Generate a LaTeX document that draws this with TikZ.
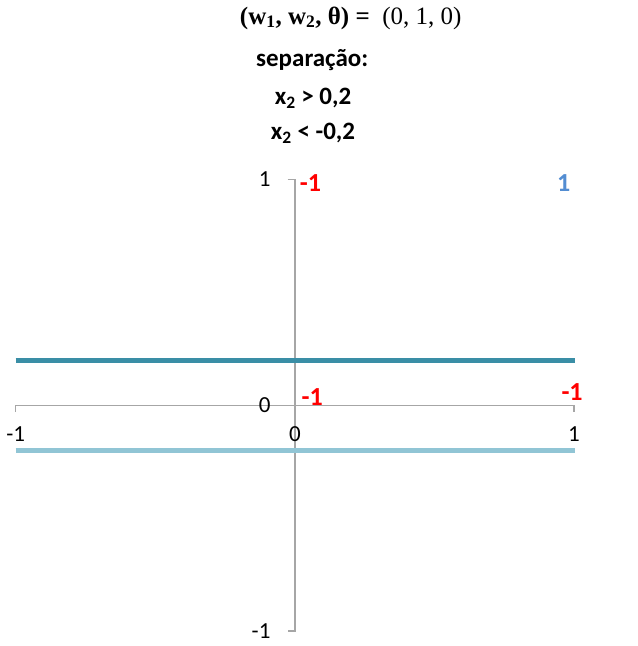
\documentclass[tikz,border=0pt]{standalone}
\usepackage[no-math]{fontspec}
\setmainfont{Carlito}
\newfontfamily\titlefont{Liberation Serif}
\usetikzlibrary{positioning}
\definecolor{axisgray}{RGB}{166,166,166}
\definecolor{upperline}{RGB}{58,142,166}
\definecolor{lowerline}{RGB}{145,197,213}
\definecolor{classblue}{RGB}{83,141,210}

\begin{document}
\begin{tikzpicture}[x=279.15pt, y=225.75pt,
  axis/.style={draw=axisgray, line width=1.3pt},
  ticklabel/.style={font=\fontsize{23}{27}\selectfont, inner sep=0pt},
  classlabel/.style={font=\fontsize{26}{30}\selectfont\bfseries, inner sep=0pt},
  rulelabel/.style={font=\fontsize{25}{29}\selectfont\bfseries, inner sep=0pt},
  sepline/.style={line width=4.8pt}]
\useasboundingbox (-1.0563,-1.0664) rectangle (1.2257,1.7951);

% axes
\coordinate (xl) at (-1,0);
\coordinate (xr) at (1,0);
\coordinate (yt) at (0,1);
\coordinate (yb) at (0,-1);
\coordinate (xlt) at (-1,-0.03);
\coordinate (xrt) at (1,-0.03);
\coordinate (ytt) at (-0.026,1);
\coordinate (y0t) at (-0.026,0);
\coordinate (ybt) at (-0.026,-1);
\draw[axis] (xlt) -- (xl) -- (xr) -- (xrt);
\draw[axis] (ytt) -- (yt) -- (yb) -- (ybt);
\draw[axis] (y0t) -- (0,0);

% tick labels
\node[ticklabel, left=17pt of ytt] (ly1) {1};
\node[ticklabel, left=17pt of y0t] (ly0) {0};
\node[ticklabel, left=17pt of ybt] (lym) {-1};
\node[ticklabel, below=14pt of xlt] (lxm) {-1};
\node[ticklabel, below=14pt] (lx0) at (0,-0.03) {0};
\node[ticklabel, below=14pt of xrt] (lx1) {1};

% separating lines
\coordinate (ua) at (-1,0.2);
\coordinate (ub) at (1.003,0.2);
\coordinate (la) at (-1,-0.2);
\coordinate (lb) at (1.003,-0.2);
\draw[sepline, upperline] (ua) -- (ub);
\draw[sepline, lowerline] (la) -- (lb);

% classes
\node[classlabel, red] (c01) at (0.056,0.984) {-1};
\node[classlabel, classblue] (c11) at (0.963,0.984) {1};
\node[classlabel, red] (c00) at (0.062,0.037) {-1};
\node[classlabel, red] (c10) at (0.993,0.058) {-1};

% title
\node[font=\fontsize{25}{29}\titlefont, inner sep=0pt] (title) at (0.2,1.715)
  {{\bfseries(w\textsubscript{1}, w\textsubscript{2}, θ) =}\ \ (0, 1, 0)};
\node[rulelabel] (sep) at (0.062,1.53) {separação:};
\node[rulelabel] (r1) at (0.065,1.36) {x\textsubscript{2} > 0,2};
\node[rulelabel] (r2) at (0.065,1.205) {x\textsubscript{2} < -0,2};
\end{tikzpicture}
\end{document}
